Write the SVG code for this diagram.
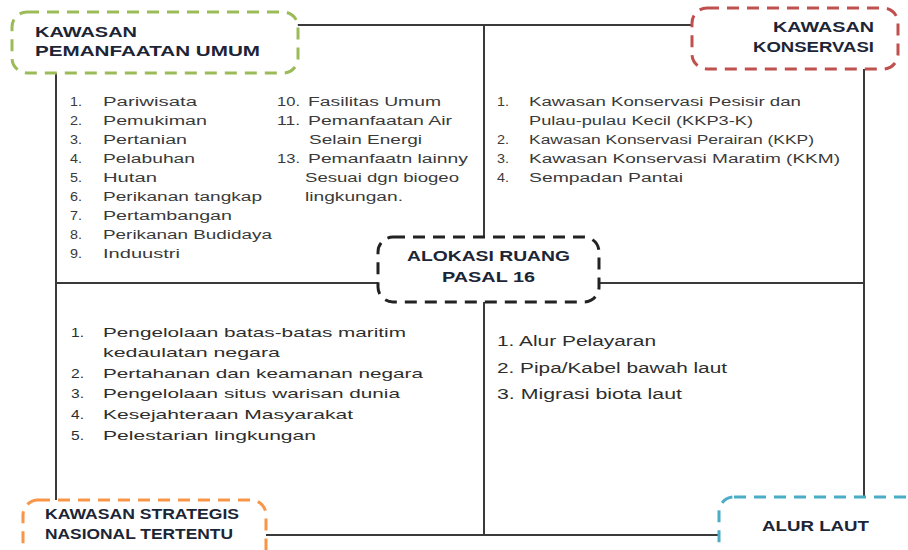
<svg xmlns="http://www.w3.org/2000/svg" width="908" height="550" viewBox="0 0 908 550">
  <style>
    .box { fill: #ffffff; stroke-width: 3; stroke-dasharray: 12 8; }
    .title { font-family: "Liberation Sans", Arial, sans-serif; font-weight: bold; font-size: 14px; fill: #1c2536; }
    .item { font-family: "Liberation Sans", Arial, sans-serif; font-size: 12.5px; fill: #3a3a3a; }
    .item2 { font-family: "Liberation Sans", Arial, sans-serif; font-size: 13px; fill: #2e2e2e; }
    .item3 { font-family: "Liberation Sans", Arial, sans-serif; font-size: 14px; fill: #2e2e2e; }
    .link { fill: none; stroke: #3a3a3a; stroke-width: 2; }
  </style>

  <rect width="908" height="550" fill="#ffffff"/>

  <!-- frame and cross lines joining the five areas -->
  <g id="connectors">
    <rect class="link" x="56" y="25" width="808" height="510"/>
    <line class="link" x1="484" y1="25" x2="484" y2="535"/>
    <line class="link" x1="56" y1="283" x2="864" y2="283"/>
  </g>

  <g id="node-pemanfaatan-umum">
    <rect class="box" x="12" y="12" width="286" height="61" rx="15" stroke="#9bbb59"/>
    <text class="title" x="35" y="37" textLength="102" lengthAdjust="spacingAndGlyphs">KAWASAN</text>
    <text class="title" x="35" y="56" textLength="225" lengthAdjust="spacingAndGlyphs">PEMANFAATAN UMUM</text>
  </g>

  <g id="node-konservasi">
    <rect class="box" x="692" y="8" width="206" height="61" rx="15" stroke="#c0504d"/>
    <text class="title" x="874" y="32" text-anchor="end" textLength="101" lengthAdjust="spacingAndGlyphs">KAWASAN</text>
    <text class="title" x="874" y="52" text-anchor="end" textLength="121" lengthAdjust="spacingAndGlyphs">KONSERVASI</text>
  </g>

  <g id="node-alokasi-ruang">
    <rect class="box" x="378" y="237" width="221" height="65" rx="15" stroke="#222222"/>
    <text class="title" x="407" y="261" textLength="163" lengthAdjust="spacingAndGlyphs">ALOKASI RUANG</text>
    <text class="title" x="442" y="282" textLength="93" lengthAdjust="spacingAndGlyphs">PASAL 16</text>
  </g>

  <g id="node-strategis-nasional">
    <rect class="box" x="23" y="500" width="243" height="66" rx="15" stroke="#f79646"/>
    <text class="title" x="45" y="519" font-size="13" textLength="194" lengthAdjust="spacingAndGlyphs">KAWASAN STRATEGIS</text>
    <text class="title" x="45" y="539" font-size="13" textLength="188" lengthAdjust="spacingAndGlyphs">NASIONAL TERTENTU</text>
  </g>

  <g id="node-alur-laut">
    <rect class="box" x="719" y="497" width="210" height="70" rx="15" stroke="#4bacc6"/>
    <text class="title" x="762" y="531" textLength="107" lengthAdjust="spacingAndGlyphs">ALUR LAUT</text>
  </g>

  <!-- uses of the general-use zone -->
  <g id="list-pemanfaatan-umum">
    <text class="item" x="70" y="106" textLength="12" lengthAdjust="spacingAndGlyphs">1.</text>
    <text class="item" x="103" y="106" textLength="94" lengthAdjust="spacingAndGlyphs">Pariwisata</text>
    <text class="item" x="70" y="125" textLength="12" lengthAdjust="spacingAndGlyphs">2.</text>
    <text class="item" x="103" y="125" textLength="104" lengthAdjust="spacingAndGlyphs">Pemukiman</text>
    <text class="item" x="70" y="144" textLength="12" lengthAdjust="spacingAndGlyphs">3.</text>
    <text class="item" x="103" y="144" textLength="84" lengthAdjust="spacingAndGlyphs">Pertanian</text>
    <text class="item" x="70" y="163" textLength="12" lengthAdjust="spacingAndGlyphs">4.</text>
    <text class="item" x="103" y="163" textLength="92" lengthAdjust="spacingAndGlyphs">Pelabuhan</text>
    <text class="item" x="70" y="182" textLength="12" lengthAdjust="spacingAndGlyphs">5.</text>
    <text class="item" x="103" y="182" textLength="54" lengthAdjust="spacingAndGlyphs">Hutan</text>
    <text class="item" x="70" y="201" textLength="12" lengthAdjust="spacingAndGlyphs">6.</text>
    <text class="item" x="103" y="201" textLength="159" lengthAdjust="spacingAndGlyphs">Perikanan tangkap</text>
    <text class="item" x="70" y="220" textLength="12" lengthAdjust="spacingAndGlyphs">7.</text>
    <text class="item" x="103" y="220" textLength="129" lengthAdjust="spacingAndGlyphs">Pertambangan</text>
    <text class="item" x="70" y="239" textLength="12" lengthAdjust="spacingAndGlyphs">8.</text>
    <text class="item" x="103" y="239" textLength="169" lengthAdjust="spacingAndGlyphs">Perikanan Budidaya</text>
    <text class="item" x="70" y="258" textLength="12" lengthAdjust="spacingAndGlyphs">9.</text>
    <text class="item" x="103" y="258" textLength="77" lengthAdjust="spacingAndGlyphs">Induustri</text>

    <text class="item" x="277" y="106" textLength="23" lengthAdjust="spacingAndGlyphs">10.</text>
    <text class="item" x="308" y="106" textLength="133" lengthAdjust="spacingAndGlyphs">Fasilitas Umum</text>
    <text class="item" x="277" y="125" textLength="23" lengthAdjust="spacingAndGlyphs">11.</text>
    <text class="item" x="308" y="125" textLength="144" lengthAdjust="spacingAndGlyphs">Pemanfaatan Air</text>
    <text class="item" x="309" y="144" textLength="113" lengthAdjust="spacingAndGlyphs">Selain Energi</text>
    <text class="item" x="277" y="163" textLength="23" lengthAdjust="spacingAndGlyphs">13.</text>
    <text class="item" x="308" y="163" textLength="160" lengthAdjust="spacingAndGlyphs">Pemanfaatn lainny</text>
    <text class="item" x="305" y="182" textLength="154" lengthAdjust="spacingAndGlyphs">Sesuai dgn biogeo</text>
    <text class="item" x="305" y="201" textLength="98" lengthAdjust="spacingAndGlyphs">lingkungan.</text>
  </g>

  <!-- conservation zone categories -->
  <g id="list-konservasi">
    <text class="item" x="497" y="106" textLength="12" lengthAdjust="spacingAndGlyphs">1.</text>
    <text class="item" x="529" y="106" textLength="272" lengthAdjust="spacingAndGlyphs">Kawasan Konservasi Pesisir dan</text>
    <text class="item" x="529" y="125" textLength="224" lengthAdjust="spacingAndGlyphs">Pulau-pulau Kecil (KKP3-K)</text>
    <text class="item" x="497" y="144" textLength="12" lengthAdjust="spacingAndGlyphs">2.</text>
    <text class="item" x="529" y="144" textLength="285" lengthAdjust="spacingAndGlyphs">Kawasan Konservasi Perairan (KKP)</text>
    <text class="item" x="497" y="163" textLength="12" lengthAdjust="spacingAndGlyphs">3.</text>
    <text class="item" x="529" y="163" textLength="311" lengthAdjust="spacingAndGlyphs">Kawasan Konservasi Maratim (KKM)</text>
    <text class="item" x="497" y="182" textLength="12" lengthAdjust="spacingAndGlyphs">4.</text>
    <text class="item" x="529" y="182" textLength="154" lengthAdjust="spacingAndGlyphs">Sempadan Pantai</text>
  </g>

  <!-- national strategic zone purposes -->
  <g id="list-strategis">
    <text class="item2" x="71" y="337" textLength="13" lengthAdjust="spacingAndGlyphs">1.</text>
    <text class="item2" x="103" y="337" textLength="303" lengthAdjust="spacingAndGlyphs">Pengelolaan batas-batas maritim</text>
    <text class="item2" x="103" y="357" textLength="177" lengthAdjust="spacingAndGlyphs">kedaulatan negara</text>
    <text class="item2" x="71" y="378" textLength="13" lengthAdjust="spacingAndGlyphs">2.</text>
    <text class="item2" x="103" y="378" textLength="320" lengthAdjust="spacingAndGlyphs">Pertahanan dan keamanan negara</text>
    <text class="item2" x="71" y="398" textLength="13" lengthAdjust="spacingAndGlyphs">3.</text>
    <text class="item2" x="103" y="398" textLength="297" lengthAdjust="spacingAndGlyphs">Pengelolaan situs warisan dunia</text>
    <text class="item2" x="71" y="419" textLength="13" lengthAdjust="spacingAndGlyphs">4.</text>
    <text class="item2" x="103" y="419" textLength="250" lengthAdjust="spacingAndGlyphs">Kesejahteraan Masyarakat</text>
    <text class="item2" x="71" y="440" textLength="13" lengthAdjust="spacingAndGlyphs">5.</text>
    <text class="item2" x="103" y="440" textLength="213" lengthAdjust="spacingAndGlyphs">Pelestarian lingkungan</text>
  </g>

  <!-- sea lane uses -->
  <g id="list-alur-laut">
    <text class="item3" x="497" y="346" textLength="159" lengthAdjust="spacingAndGlyphs">1. Alur Pelayaran</text>
    <text class="item3" x="497" y="373" textLength="230" lengthAdjust="spacingAndGlyphs">2. Pipa/Kabel bawah laut</text>
    <text class="item3" x="497" y="399" textLength="185" lengthAdjust="spacingAndGlyphs">3. Migrasi biota laut</text>
  </g>
</svg>
